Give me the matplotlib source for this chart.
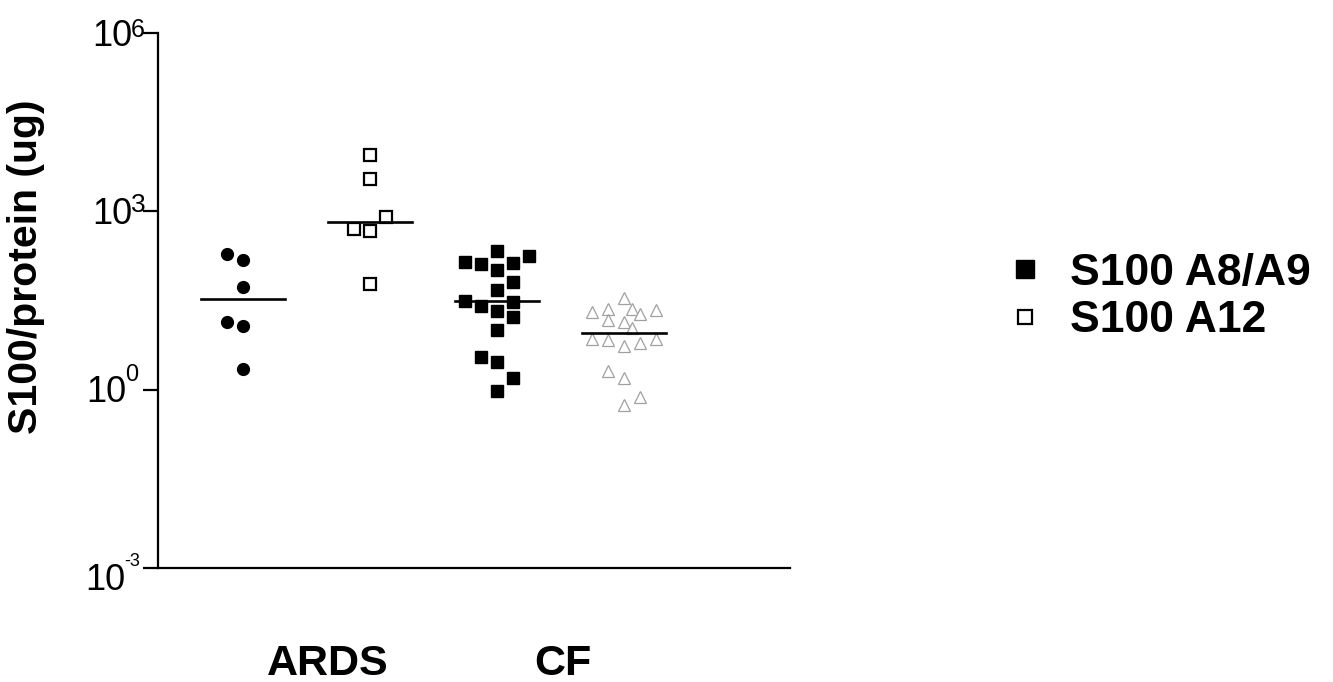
import numpy as np
import matplotlib
matplotlib.use("Agg")
import matplotlib.pyplot as plt
from matplotlib.lines import Line2D

plt.rcParams['font.family'] = ['Liberation Sans', 'DejaVu Sans']

# ---------------- data ----------------
categories = ["ARDS", "CF"]
legend_labels = ["S100 A8/A9", "S100 A12"]
ytick_exponents = [-3, 0, 3, 6]
ytick_exp_labels = ["-3", "0", "3", "6"]

ards_a89 = [195, 151, 54, 14, 12, 2.2]
ards_a89_col = [-1, 0, 0, -1, 0, 0]

ards_a12 = [8900, 3550, 810, 510, 470, 60]
ards_a12_col = [0, 0, 1, -1, 0, 0]

cf_a89 = [219, 178, 141, 132, 135, 105, 66, 48, 31.6, 30.2, 25.7, 21.4, 17,
          10.2, 3.5, 2.95, 1.58, 0.95]
cf_a89_col = [0, 2, -2, -1, 1, 0, 1, 0, -2, 1, -1, 0, 1, 0, -1, 0, 1, 0]

cf_a12 = [35.5, 20.4, 22.9, 22.9, 19.1, 21.9, 15.1, 13.8, 11.0, 7.2, 6.9,
          5.5, 6.2, 7.2, 2.1, 1.58, 0.76, 0.56]
cf_a12_col = [0, -2, -1, 0.5, 1, 2, -1, 0, 0.5, -2, -1, 0, 1, 2, -1, 0, 1, 0]

# ---------------- layout ----------------
W, H = 1333, 682
fig = plt.figure(figsize=(W / 100, H / 100), dpi=100)
ax = fig.add_axes([158 / W, 1 - 568 / H, (790 - 158) / W, (568 - 33) / H])

col_unit = 0.126
half_w = 0.33

groups = [
    (1, ards_a89, ards_a89_col, dict(marker='o', ms=8.5, color='black', mec='black')),
    (2, ards_a12, ards_a12_col, dict(marker='s', ms=8.5, mfc='white', mec='black', mew=1.6)),
    (3, cf_a89, cf_a89_col, dict(marker='s', ms=8.8, color='black', mec='black')),
    (4, cf_a12, cf_a12_col, dict(marker='^', ms=9, mfc='white', mec='#a0a0a0', mew=0.9)),
]

for pos, vals, cols, style in groups:
    xs = pos + np.array(cols) * col_unit
    ax.plot(xs, vals, ls='none', zorder=3, **style)
    med = np.median(vals)
    ax.plot([pos - half_w, pos + half_w], [med, med], color='black', lw=1.9, zorder=4)

ax.set_yscale('log')
ax.set_ylim(1e-3, 1e6)
ax.set_xlim(0.331, 5.307)

for s in ['top', 'right']:
    ax.spines[s].set_visible(False)
ax.spines['left'].set_linewidth(1.6)
ax.spines['bottom'].set_linewidth(1.6)

ax.set_yticks([10.0 ** e for e in ytick_exponents])
ax.set_yticklabels([])
ax.yaxis.set_minor_locator(matplotlib.ticker.NullLocator())
ax.tick_params(axis='y', which='major', length=10.8, width=1.6)
ax.set_xticks([])

# tick labels "10" with superscript exponent
label_dx = [-33, -32, -26, -26]      # pixel shift of each label from the axis
label_dy = [-12, -3, -3, -3]         # pixel shift of each label relative to its tick
exp_size = [13, 17, 19, 18]
exp_raise = [9, 11, 4, 1]
for e, lab, dx, dy, es, er in zip(ytick_exponents, ytick_exp_labels, label_dx,
                                  label_dy, exp_size, exp_raise):
    base = ax.annotate("10", xy=(0, 10.0 ** e), xycoords=('axes fraction', 'data'),
                       xytext=(dx, dy), textcoords='offset pixels',
                       ha='right', va='center', fontsize=26)
    ax.annotate(lab, xy=(1, 1), xycoords=base, xytext=(-1, er),
                textcoords='offset pixels', ha='left', va='top', fontsize=es)

fig.text(26 / W, 1 - 267 / H, "S100/protein (ug)", rotation=90, ha='center',
         va='center', fontsize=29.5, fontweight='bold')

label_x = [1.669, 3.52]
for lx, lab in zip(label_x, categories):
    ax.text(lx, -0.18, lab, transform=ax.get_xaxis_transform(), ha='center',
            va='center', fontsize=31, fontweight='bold')

handles = [
    Line2D([], [], marker='s', ls='none', ms=12.5, color='black'),
    Line2D([], [], marker='s', ls='none', ms=9.5, mfc='white', mec='black', mew=1.6),
]
fig.legend(handles, legend_labels, loc='center left',
           bbox_to_anchor=(981 / W, 1 - 297 / H), frameon=False,
           prop=dict(size=32, weight='bold'), handlelength=1.0,
           handletextpad=0.5, labelspacing=0.15, borderpad=0)

fig.savefig('out.png', dpi=100)
